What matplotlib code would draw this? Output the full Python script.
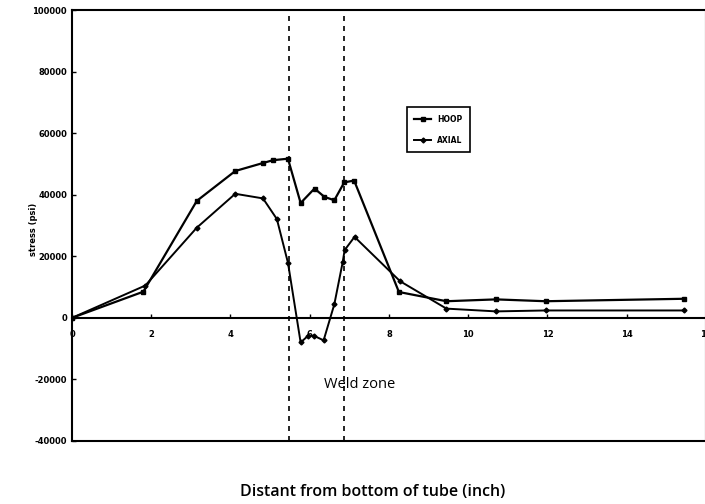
import numpy as np
import matplotlib.pyplot as plt

# hoop stress, measured points
hoop_x = [0, 1.8, 3.15, 4.12, 4.82, 5.07, 5.45, 5.77, 6.12, 6.37, 6.62, 6.87, 7.12,
          8.25, 9.45, 10.7, 11.95, 15.45]
hoop_y = [0, 8500, 38000, 47700, 50300, 51200, 51700, 37300, 42000, 39300, 38200,
          44000, 44600, 8400, 5400, 6000, 5400, 6200]

# axial stress
axial_x = [0, 1.85, 3.15, 4.12, 4.82, 5.17, 5.45, 5.77, 5.95, 6.1, 6.35, 6.62, 6.83,
           6.88, 7.13, 8.28, 9.45, 10.7, 11.95, 15.45]
axial_y = [0, 10500, 29300, 40300, 38800, 32100, 17900, -8000, -5900, -5800, -7300,
           4400, 18000, 22000, 26300, 11900, 3000, 2100, 2400, 2400]

weld_lo, weld_hi = 5.47, 6.87
x_ticks = [0, 2, 4, 6, 8, 10, 12, 14, 16]
y_ticks = [-40000, -20000, 0, 20000, 40000, 60000, 80000, 100000]

fig = plt.figure(figsize=(7.05, 5.04), dpi=100)
ax = fig.add_axes([72/705, 1-441/504, (706-72)/705, (441-10)/504])

ax.plot(hoop_x, hoop_y, color='black', lw=1.6, marker='s', ms=3.5, label='HOOP')
ax.plot(axial_x, axial_y, color='black', lw=1.4, marker='D', ms=2.5, label='AXIAL')

ax.axvline(weld_lo, color='black', ls=(0, (3, 3)), lw=1.2)
ax.axvline(weld_hi, color='black', ls=(0, (3, 3)), lw=1.2)

ax.set_xlim(0, 16)
ax.set_ylim(-40000, 100000)
for s in ax.spines.values():
    s.set_linewidth(1.5)

ax.tick_params(axis='x', bottom=False, labelbottom=False)
ax.set_yticks(y_ticks)
ax.set_yticklabels([str(v) for v in y_ticks], fontsize=6, fontweight='bold')
ax.tick_params(axis='y', direction='in', length=3, width=1)

# x axis drawn along zero stress
sec = ax.secondary_xaxis(40000/140000)
sec.set_xticks(x_ticks)
sec.set_xticklabels([str(v) for v in x_ticks], fontsize=6, fontweight='bold')
sec.tick_params(direction='in', length=3, width=1, pad=9)
sec.spines['bottom'].set_linewidth(1.5)

ax.text(6.36, -21800, 'Weld zone', fontsize=10.5, family='Open Sans',
        ha='left', va='center')

leg = ax.legend(loc='upper left', bbox_to_anchor=(0.522, 0.784), fancybox=False,
                edgecolor='black', prop={'size': 5.5, 'weight': 'bold'},
                handlelength=2.2, borderpad=1.0, labelspacing=1.6, framealpha=1)
leg.get_frame().set_linewidth(1.2)

fig.text(33/705, 1-229/504, 'stress (psi)', rotation=90, fontsize=6, fontweight='bold',
         ha='center', va='center')
fig.text(373/705, 1-492/504, 'Distant from bottom of tube (inch)', fontsize=11.5,
         family='Open Sans', fontweight='semibold', ha='center', va='center')

fig.savefig('out.png', dpi=100)
